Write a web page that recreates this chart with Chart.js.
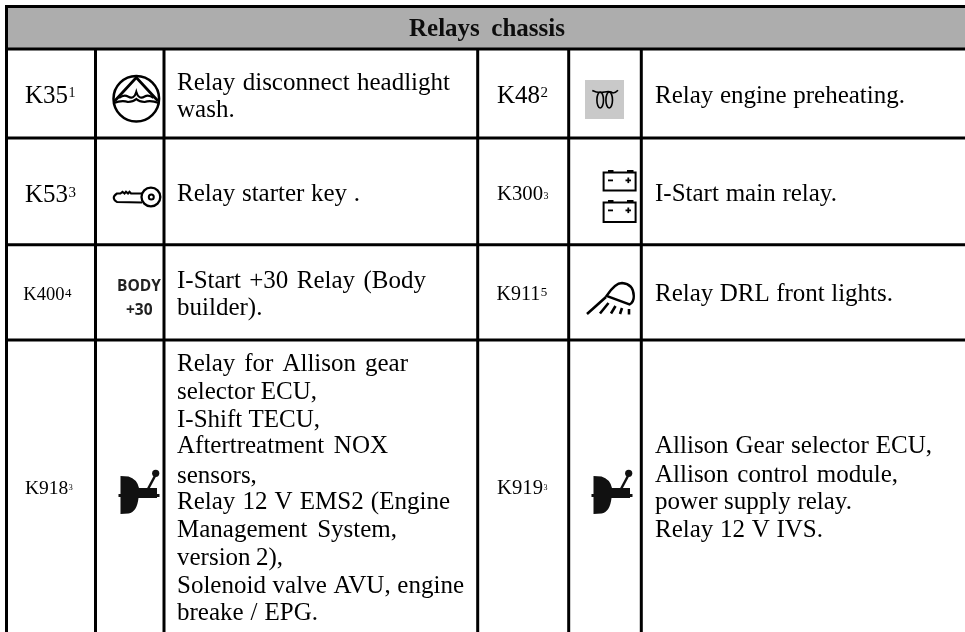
<!DOCTYPE html>
<html>
<head>
<meta charset="utf-8">
<title>Relays chassis</title>
<script src="https://cdn.jsdelivr.net/npm/chart.js@4"></script>
<style>
  html, body { margin: 0; padding: 0; background: #fff; overflow: hidden; }
  canvas { display: block; }
</style>
</head>
<body>
<canvas id="relayTable" width="965" height="632"></canvas>
<script>
// ─── Table content ────────────────────────────────────────────────
const TITLE = 'Relays  chassis';

const leftCodes  = ['K35', 'K53', 'K400', 'K918'];
const leftNotes  = ['1', '3', '4', '3'];
const rightCodes = ['K48', 'K300', 'K911', 'K919'];
const rightNotes = ['2', '3', '5', '3'];

const leftText = [
    ['Relay disconnect headlight', 'wash.'],
    ['Relay starter key .'],
    ['I-Start +30 Relay (Body', 'builder).'],
    ['Relay for Allison gear', 'selector ECU,', 'I-Shift TECU,', 'Aftertreatment NOX', 'sensors,',
     'Relay 12 V EMS2 (Engine', 'Management System,', 'version 2),', 'Solenoid valve AVU, engine', 'breake / EPG.'],
];
const rightText = [
    ['Relay engine preheating.'],
    ['I-Start main relay.'],
    ['Relay DRL front lights.'],
    ['Allison Gear selector ECU,', 'Allison control module,', 'power supply relay.', 'Relay 12 V IVS.'],
];

// Table rules
const columnEdges = [6.5, 95.5, 164, 477.7, 568.7, 641.3];
const rowEdges    = [6.5, 49, 138, 244.7, 340];
const PAGE_W = 965, PAGE_H = 632;

// ─── Text layout ──────────────────────────────────────────────────
const SERIF = '"Liberation Serif", "Times New Roman", serif';

// size, x, baseline, note size, note rise
const leftCodeStyle = [
    [25, 25, 103, 14, 6], [25, 25, 202, 15, 5], [18.5, 23.3, 300, 13, 3.5], [19.5, 25, 494, 8, 4],
];
const rightCodeStyle = [
    [25, 497, 103, 15, 6], [20.7, 497, 200, 10, 1], [20, 496.5, 300, 13, 4], [20.7, 497, 494, 8, 4],
];

const leftTextX = 177, rightTextX = 655;
const leftBaselines = [
    [90, 117], [201], [288, 315],
    [371, 399, 427, 453, 483, 509, 537, 565, 593, 620],
];
const rightBaselines = [[103], [201], [301], [453, 482, 509, 537]];

// right end of each line, stretched like the justified original
const leftEnds = [
    [450, 233], [360], [426, 262],
    [408, 317, 320, 388, 256, 450, 397, 283, 464, 318],
];
const rightEnds = [[905], [837], [893], [932, 898, 852, 823]];

// ─── Icons ────────────────────────────────────────────────────────
function drawWashIcon(ctx) {
    ctx.lineWidth = 2.5;
    ctx.beginPath();
    ctx.arc(136.3, 98.7, 22.8, 0, Math.PI * 2);
    ctx.stroke();
    ctx.lineWidth = 2.8;
    ctx.beginPath();
    ctx.moveTo(114.7, 101);
    ctx.lineTo(136.3, 77.5);
    ctx.lineTo(158, 101);
    ctx.stroke();
    ctx.lineWidth = 2.2;
    ctx.beginPath();
    ctx.moveTo(119, 98);
    ctx.quadraticCurveTo(124, 94, 128, 96.5);
    ctx.quadraticCurveTo(134, 100, 136.3, 92);
    ctx.quadraticCurveTo(138.6, 100, 144.6, 96.5);
    ctx.quadraticCurveTo(148.6, 94, 153.6, 98);
    ctx.stroke();
    ctx.beginPath();
    ctx.moveTo(113.8, 103);
    ctx.quadraticCurveTo(122, 100, 128, 102);
    ctx.quadraticCurveTo(133, 102, 136.3, 99);
    ctx.quadraticCurveTo(139.6, 102, 144.6, 102);
    ctx.quadraticCurveTo(150.6, 100, 158.8, 103);
    ctx.stroke();
}

function drawKeyIcon(ctx) {
    ctx.lineWidth = 2.3;
    ctx.beginPath();
    ctx.arc(150.9, 197, 9.4, 0, Math.PI * 2);
    ctx.stroke();
    ctx.lineWidth = 2;
    ctx.beginPath();
    ctx.arc(151.3, 197, 2.5, 0, Math.PI * 2);
    ctx.stroke();
    ctx.lineWidth = 2.1;
    ctx.beginPath();
    ctx.moveTo(142, 193.5);
    ctx.lineTo(131, 193.5);
    ctx.lineTo(129.5, 191.8);
    ctx.lineTo(128, 193.5);
    ctx.lineTo(126, 191.8);
    ctx.lineTo(124.5, 193.5);
    ctx.lineTo(122.5, 191.8);
    ctx.lineTo(120.5, 193.5);
    ctx.lineTo(117, 193.5);
    ctx.quadraticCurveTo(110.5, 197.5, 117, 202);
    ctx.lineTo(142, 202.5);
    ctx.stroke();
}

function drawBodyIcon(ctx) {
    ctx.fillStyle = '#222';
    ctx.font = 'bold 15.5px "Open Sans", sans-serif';
    ctx.fillText('BODY', 117, 291);
    ctx.fillText('+30', 126, 315);
    ctx.fillStyle = '#000';
}

function drawHeaterIcon(ctx) {
    ctx.fillStyle = '#c9c9c9';
    ctx.fillRect(585, 80, 39, 39);
    ctx.fillStyle = '#000';
    ctx.lineWidth = 1.6;
    ctx.beginPath();
    ctx.moveTo(592.3, 90.5);
    ctx.quadraticCurveTo(598, 93.5, 604.5, 92);
    ctx.quadraticCurveTo(611, 91, 613, 93);
    ctx.quadraticCurveTo(615.5, 93, 618, 90.3);
    ctx.stroke();
    ctx.beginPath();
    ctx.ellipse(600.2, 100, 3.3, 8, 0, 0, Math.PI * 2);
    ctx.stroke();
    ctx.beginPath();
    ctx.ellipse(609.2, 100, 3.3, 8, 0, 0, Math.PI * 2);
    ctx.stroke();
}

function drawBattery(ctx, y, h) {
    ctx.lineWidth = 2;
    ctx.strokeRect(603.6, y, 32, h);
    ctx.fillRect(608, y - 2.5, 5.5, 2.5);
    ctx.fillRect(627, y - 2.5, 6.5, 2.5);
    ctx.fillRect(608, y + 7, 5, 1.8);
    ctx.fillRect(625.5, y + 7, 5.5, 1.8);
    ctx.fillRect(627.4, y + 5, 1.8, 5.6);
}

function drawHeadlampIcon(ctx) {
    ctx.lineWidth = 2.4;
    ctx.beginPath();
    ctx.moveTo(606.5, 296);
    ctx.quadraticCurveTo(615, 283, 622, 283);
    ctx.quadraticCurveTo(633.5, 284, 633.8, 296);
    ctx.quadraticCurveTo(634, 302, 629.5, 304.5);
    ctx.closePath();
    ctx.stroke();
    ctx.lineWidth = 2.6;
    ctx.beginPath();
    ctx.moveTo(587, 314);
    ctx.lineTo(606, 297);
    ctx.moveTo(600, 313.5);
    ctx.lineTo(608.5, 303);
    ctx.moveTo(611, 313.5);
    ctx.lineTo(615.5, 306);
    ctx.moveTo(620, 314);
    ctx.lineTo(622, 308);
    ctx.moveTo(629, 314.5);
    ctx.lineTo(629, 309);
    ctx.stroke();
}

function drawShifterIcon(ctx, dx) {
    ctx.save();
    ctx.translate(dx, 0);
    ctx.fillStyle = '#111';
    ctx.beginPath();
    ctx.moveTo(120.5, 476);
    ctx.lineTo(128.5, 476.5);
    ctx.quadraticCurveTo(137, 479, 139, 488);
    ctx.lineTo(157, 488);
    ctx.lineTo(157, 498);
    ctx.lineTo(138.5, 498);
    ctx.quadraticCurveTo(137, 512, 128.5, 513.5);
    ctx.lineTo(120.5, 514);
    ctx.closePath();
    ctx.fill();
    ctx.fillRect(118.5, 494, 41, 3);
    ctx.strokeStyle = '#111';
    ctx.lineWidth = 2.5;
    ctx.beginPath();
    ctx.moveTo(148, 489);
    ctx.lineTo(155.5, 475);
    ctx.stroke();
    ctx.beginPath();
    ctx.arc(155.7, 473.3, 3.6, 0, Math.PI * 2);
    ctx.fill();
    ctx.restore();
}

// ─── Text and icons, drawn over the rules ─────────────────────────
function drawFitted(ctx, text, x, y, end) {
    ctx.wordSpacing = '0px';
    const gaps = text.split(' ').length - 1;
    const extra = gaps ? (end - x - ctx.measureText(text).width) / gaps : 0;
    ctx.wordSpacing = extra + 'px';
    ctx.fillText(text, x, y);
    ctx.wordSpacing = '0px';
}

function drawCode(ctx, code, note, style) {
    const [size, x, y, noteSize, rise] = style;
    ctx.font = size + 'px ' + SERIF;
    ctx.fillText(code, x, y);
    const w = ctx.measureText(code).width;
    ctx.font = noteSize + 'px ' + SERIF;
    ctx.fillText(note, x + w + 0.5, y - rise);
}

const tablePlugin = {
    id: 'tablePlugin',
    beforeDatasetsDraw(chart) {
        const { ctx, scales: { x, y } } = chart;
        ctx.save();
        ctx.fillStyle = '#adadad';
        const top = y.getPixelForValue(rowEdges[0]);
        ctx.fillRect(x.getPixelForValue(columnEdges[0]), top,
            x.getPixelForValue(PAGE_W) - x.getPixelForValue(columnEdges[0]),
            y.getPixelForValue(rowEdges[1]) - top);
        ctx.restore();
    },
    afterDatasetsDraw(chart) {
        const { ctx } = chart;
        ctx.save();
        ctx.fillStyle = '#000';
        ctx.strokeStyle = '#000';
        ctx.textBaseline = 'alphabetic';

        ctx.font = 'bold 25px ' + SERIF;
        ctx.fillStyle = '#0d0d0d';
        drawFitted(ctx, TITLE, 409, 36, 565);
        ctx.fillStyle = '#000';

        leftCodes.forEach((c, i) => drawCode(ctx, c, leftNotes[i], leftCodeStyle[i]));
        rightCodes.forEach((c, i) => drawCode(ctx, c, rightNotes[i], rightCodeStyle[i]));

        ctx.font = '25px ' + SERIF;
        leftText.forEach((lines, i) => lines.forEach((t, j) =>
            drawFitted(ctx, t, leftTextX, leftBaselines[i][j], leftEnds[i][j])));
        rightText.forEach((lines, i) => lines.forEach((t, j) =>
            drawFitted(ctx, t, rightTextX, rightBaselines[i][j], rightEnds[i][j])));

        drawWashIcon(ctx);
        drawKeyIcon(ctx);
        drawBodyIcon(ctx);
        drawHeaterIcon(ctx);
        drawBattery(ctx, 172.5, 18);
        drawBattery(ctx, 202.5, 19.5);
        drawHeadlampIcon(ctx);
        drawShifterIcon(ctx, 0);
        drawShifterIcon(ctx, 473);
        ctx.restore();
    }
};

// ─── Rules as line datasets ───────────────────────────────────────
function rule(x1, y1, x2, y2) {
    return {
        data: [{ x: x1, y: y1 }, { x: x2, y: y2 }],
        showLine: true,
        pointRadius: 0,
        borderColor: '#000',
        borderWidth: 3,
        borderCapStyle: 'butt'
    };
}

const rules = [];
rowEdges.forEach((r, i) => rules.push(rule(i === 0 ? 5 : columnEdges[0], r, PAGE_W, r)));
columnEdges.forEach((c, i) => rules.push(rule(c, i === 0 ? rowEdges[0] : rowEdges[1], c, PAGE_H)));

new Chart(document.getElementById('relayTable'), {
    type: 'scatter',
    data: { datasets: rules },
    plugins: [tablePlugin],
    options: {
        responsive: false,
        animation: false,
        events: [],
        layout: { padding: 0 },
        clip: false,
        plugins: { legend: { display: false }, tooltip: { enabled: false } },
        scales: {
            x: { type: 'linear', display: false, min: 0, max: PAGE_W },
            y: { type: 'linear', display: false, min: 0, max: PAGE_H, reverse: true }
        }
    }
});
</script>
</body>
</html>
